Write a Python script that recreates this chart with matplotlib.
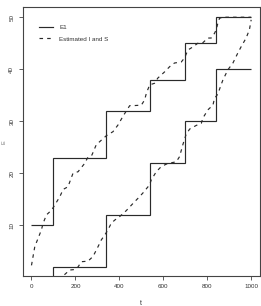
import matplotlib
matplotlib.use("Agg")
import matplotlib.pyplot as plt
import numpy as np

plt.rcParams['font.family'] = ['Liberation Sans', 'DejaVu Sans']

# E1 step functions (solid)
upper_edges = [0, 100, 340, 540, 700, 840, 1000]
upper_levels = [10, 23, 32, 38, 45, 50]
lower_edges = [0, 100, 340, 540, 700, 840, 1000]
lower_levels = [0, 2, 12, 22, 30, 40]

# Estimated I and S (dashed)
est_upper_t = [0, 15, 30, 45, 53, 68, 91, 106, 129, 144, 166, 180, 189, 212, 242, 257,
               275, 295, 311, 340, 371, 394, 417, 447, 462, 500, 515, 523, 538, 560,
               575, 606, 629, 651, 682, 697, 712, 735, 757, 780, 803, 818, 833, 841,
               848, 856, 870, 1000]
est_upper_y = [2.3, 5.9, 7.5, 9.1, 10.4, 12.0, 12.9, 13.9, 15.5, 16.9, 17.4, 19.0, 20.0,
               20.3, 21.9, 23.1, 23.5, 25.5, 26.1, 27.2, 28.0, 29.3, 31.0, 33.0, 33.0,
               33.1, 34.1, 35.4, 37.0, 37.3, 38.3, 39.5, 40.5, 41.2, 41.4, 42.2, 43.7,
               44.3, 45.0, 45.1, 46.0, 46.0, 46.9, 47.6, 48.8, 49.8, 50.0, 50.0]
est_lower_t = [150, 174, 197, 212, 227, 257, 280, 303, 318, 333, 348, 363, 379, 402, 431,
               462, 485, 507, 538, 545, 568, 591, 621, 659, 674, 689, 704, 720, 750, 773,
               780, 803, 826, 833, 848, 863, 871, 894, 917, 939, 954, 977, 992, 1000]
est_lower_y = [0.5, 1.4, 1.5, 2.0, 3.0, 3.1, 4.0, 5.9, 7.2, 8.1, 9.1, 10.4, 11.0, 11.7,
               12.8, 14.2, 15.2, 16.2, 17.8, 18.7, 20.3, 21.3, 21.9, 22.2, 23.2, 25.5,
               27.5, 28.5, 29.2, 29.6, 30.6, 32.2, 33.1, 34.4, 35.2, 37.0, 37.9, 39.9,
               41.2, 43.1, 44.3, 46.0, 47.6, 49.5]

x_ticks = [0, 200, 400, 600, 800, 1000]
y_ticks = [10, 20, 30, 40, 50]

fig = plt.figure(figsize=(2.61, 3.06), dpi=100)
ax = fig.add_axes([0.087, 0.098, 0.909, 0.878])

lc = '#2a2a2a'
lw = 0.85
ax.stairs(upper_levels, upper_edges, baseline=None, color=lc, lw=lw, label='E1')
ax.stairs(lower_levels, lower_edges, baseline=None, color=lc, lw=lw)
ax.plot(est_upper_t, est_upper_y, color=lc, lw=lw, ls=(0, (3.0, 3.5)),
        label='Estimated I and S')
ax.plot(est_lower_t, est_lower_y, color=lc, lw=lw, ls=(0, (3.0, 3.5)))

ax.set_xlim(-40, 1040)
ax.set_ylim(0.25, 51.9)
ax.set_xticks(x_ticks)
ax.set_yticks(y_ticks)
ax.set_xticklabels([str(v) for v in x_ticks], fontsize=4.5, color='#333333')
ax.set_yticklabels([str(v) for v in y_ticks], fontsize=4.5, color='#333333',
                   rotation=90, va='center')
ax.tick_params(length=3, width=0.6, color='#444444', pad=3)
for s in ax.spines.values():
    s.set_linewidth(0.8)
    s.set_color('#444444')

ax.set_xlabel('t', fontsize=5, color='#333333', labelpad=8)
ax.set_ylabel('E', fontsize=4, color='#777777')
ax.yaxis.set_label_coords(-0.07, 0.5)

leg = ax.legend(loc='upper left', bbox_to_anchor=(0.06, 0.945), frameon=False,
                fontsize=4.5, handlelength=2.1, handletextpad=1.1, labelspacing=1.0,
                borderaxespad=0)
for t in leg.get_texts():
    t.set_color('#333333')

fig.savefig('out.png', dpi=100)
